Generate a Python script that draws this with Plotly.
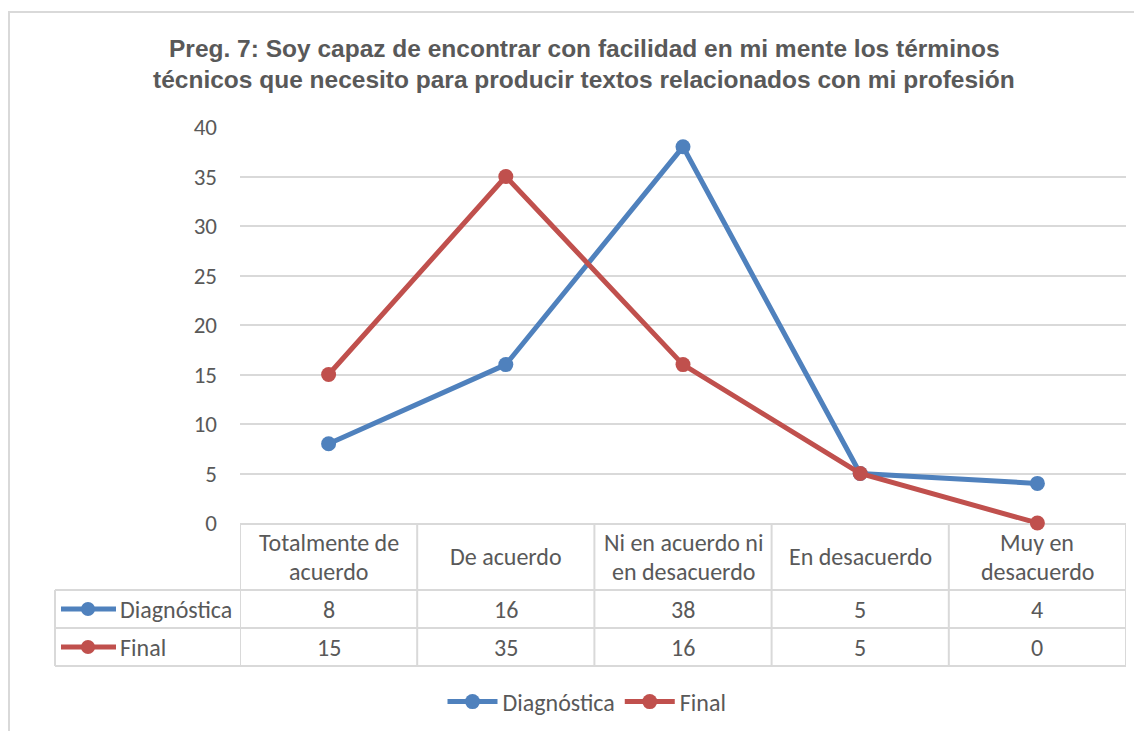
import plotly.graph_objects as go

categories = ["Totalmente de<br>acuerdo", "De acuerdo", "Ni en acuerdo ni<br>en desacuerdo",
              "En desacuerdo", "Muy en<br>desacuerdo"]
diagnostica = [8, 16, 38, 5, 4]
final = [15, 35, 16, 5, 0]
series_names = ["Diagnóstica", "Final"]
colors = ["#4F81BD", "#C0504D"]
title_lines = ["Preg. 7: Soy capaz de encontrar con facilidad en mi mente los términos",
               "técnicos que necesito para producir textos relacionados con mi profesión"]

W, H = 1142, 731
OFF = 8  # page body margin
# desired screen pixel positions of plot area
SL, SR, ST, SB = 240, 1126, 127, 523
L = SL - OFF
T = ST - OFF
R = W - (SR - OFF)
B = H - (SB - OFF)
PW, PH = SR - SL, SB - ST

def px_x(xp):
    return (xp - SL) / PW

def px_y(yp):
    return (SB - yp) / PH

FONT = "Carlito, Lato"
FS = 24
GREY = "#595959"
LINE = "#D9D9D9"

xs = list(range(len(categories)))
fig = go.Figure()
for name, vals, col in zip(series_names, [diagnostica, final], colors):
    fig.add_trace(go.Scatter(x=xs, y=vals, name=name, mode="lines+markers",
                             line=dict(color=col, width=5),
                             marker=dict(color=col, size=15), cliponaxis=False))

shapes = []
annotations = []

# outer chart border
shapes.append(dict(type="rect", xref="paper", yref="paper",
                   x0=px_x(9), x1=px_x(1170), y0=px_y(12), y1=px_y(770),
                   line=dict(color=LINE, width=2), layer="below"))

# table geometry
y_h, y_r1, y_r2 = 590, 628, 666
x_left = 55
for i in range(len(categories) + 1):
    shapes.append(dict(type="line", xref="x", yref="paper", x0=i - 0.5, x1=i - 0.5,
                       y0=px_y(SB), y1=px_y(y_r2), line=dict(color=LINE, width=2),
                       layer="below"))
shapes.append(dict(type="line", xref="paper", yref="paper", x0=px_x(x_left), x1=px_x(x_left),
                   y0=px_y(y_h), y1=px_y(y_r2), line=dict(color=LINE, width=2)))
for yy in [y_h, y_r1, y_r2]:
    shapes.append(dict(type="line", xref="paper", yref="paper", x0=px_x(x_left), x1=1,
                       y0=px_y(yy), y1=px_y(yy), line=dict(color=LINE, width=2)))

# header labels (each line placed separately to match spacing)
for i, c in enumerate(categories):
    parts = c.split("<br>")
    if len(parts) == 1:
        ys = [556]
    else:
        ys = [542, 571]
    for part, yy in zip(parts, ys):
        annotations.append(dict(x=i, y=px_y(yy), xref="x", yref="paper",
                                text=part, showarrow=False,
                                font=dict(family=FONT, size=FS, color=GREY),
                                xanchor="center", yanchor="middle"))
# values + row headers
for r, (name, vals, col) in enumerate(zip(series_names, [diagnostica, final], colors)):
    yc = (y_h + y_r1) / 2 if r == 0 else (y_r1 + y_r2) / 2
    for i, v in enumerate(vals):
        annotations.append(dict(x=i, y=px_y(yc), xref="x", yref="paper", text=str(v),
                                showarrow=False, font=dict(family=FONT, size=FS, color=GREY),
                                xanchor="center", yanchor="middle"))
    shapes.append(dict(type="line", xref="paper", yref="paper", x0=px_x(61), x1=px_x(116),
                       y0=px_y(yc), y1=px_y(yc), line=dict(color=col, width=5)))
    shapes.append(dict(type="circle", xref="paper", yref="paper", x0=px_x(81), x1=px_x(95),
                       y0=px_y(yc - 7), y1=px_y(yc + 7), fillcolor=col, line=dict(width=0)))
    annotations.append(dict(x=px_x(118), y=px_y(yc), xref="paper", yref="paper", text=name,
                            showarrow=False, font=dict(family=FONT, size=FS, color=GREY),
                            xanchor="left", yanchor="middle"))

# title
for txt, yy in zip(title_lines, [48, 80]):
    annotations.append(dict(x=px_x(584), y=px_y(yy), xref="paper", yref="paper",
                            text="<b>" + txt + "</b>", showarrow=False,
                            font=dict(family="Liberation Sans", size=24.5, color=GREY),
                            xanchor="center", yanchor="middle"))

fig.update_layout(
    width=W, height=H, margin=dict(l=L, r=R, t=T, b=B),
    paper_bgcolor="white", plot_bgcolor="white",
    shapes=shapes, annotations=annotations,
    showlegend=True,
    legend=dict(orientation="h", x=px_x(587), xanchor="center", y=px_y(702), yanchor="middle",
                font=dict(family=FONT, size=FS, color=GREY), itemwidth=50),
    xaxis=dict(range=[-0.5, len(categories) - 0.5], showticklabels=False, showgrid=False,
               zeroline=False, showline=True, linecolor=LINE, linewidth=2, fixedrange=True,
               layer="below traces"),
    yaxis=dict(range=[0, 40], dtick=5, showgrid=True, gridcolor=LINE, gridwidth=1.5,
               zeroline=False, showline=False,
               tickfont=dict(family=FONT, size=23, color=GREY), ticklabelstandoff=22),
)
fig.write_html("out.html")
